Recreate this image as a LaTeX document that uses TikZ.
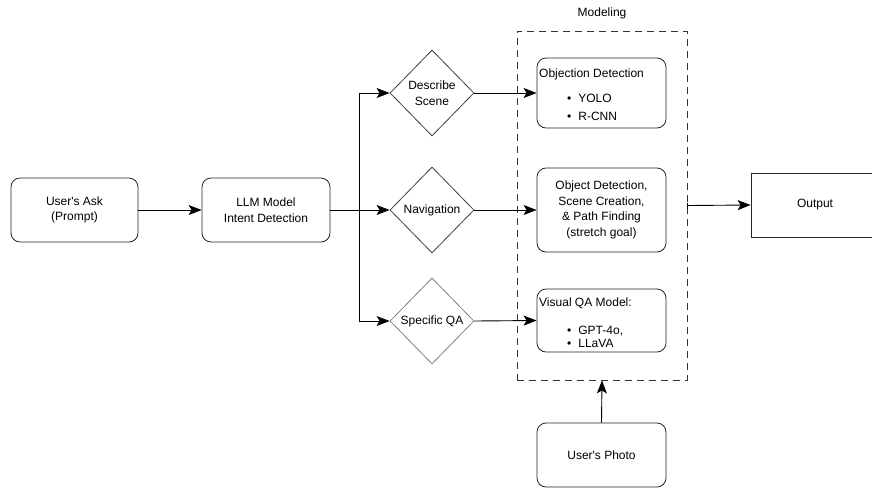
\documentclass[tikz,border=0pt]{standalone}
\usepackage{fontspec}
\setmainfont{Liberation Sans}
\usetikzlibrary{shapes.geometric,arrows.meta}
\begin{document}
\begin{tikzpicture}[x=1pt,y=-1pt,
  font=\fontsize{12}{15.5}\selectfont,
  box/.style={draw=black!85, line width=0.8pt, rounded corners=9pt, inner sep=0pt, align=center},
  dia/.style={draw=black!75, line width=0.8pt, diamond, inner sep=0pt, minimum width=84pt, minimum height=86pt, align=center},
  arr/.style={draw=black, line width=0.9pt, -{Stealth[length=13pt,width=10pt,inset=3pt]}},
  lbl/.style={inner sep=0pt, anchor=base west}]
\useasboundingbox (0,0) rectangle (872,488);
\clip (0,0) rectangle (872,488);
% left boxes
\node[box, minimum width=127pt, minimum height=64pt] (ask) at (74.5,210) {User\textquotesingle s Ask\\(Prompt)};
\node[box, minimum width=128pt, minimum height=64pt] (llm) at (266,210) {LLM Model\\Intent Detection};
% diamonds
\node[dia] (ds) at (432,93) {Describe\\Scene};
\node[dia] (nav) at (432,210) {Navigation};
\node[dia, draw=black!50] (qa) at (432,321) {Specific QA};
% modeling dashed box
\node[draw=black!80, line width=0.8pt, dash pattern=on 7pt off 5pt, minimum width=170pt, minimum height=349pt, inner sep=0pt] (model) at (602,205.5) {};
\node[inner sep=0pt] (mlabel) at (602,13) {Modeling};
% model boxes
\node[box, minimum width=129pt, minimum height=70pt] (od) at (601.5,93) {};
\node[lbl] (odt) at (539,77) {Objection Detection};
\node[lbl] (odb1) at (567,102) {\textbullet\hspace{7pt}YOLO};
\node[lbl] (odb2) at (567,120) {\textbullet\hspace{7pt}R-CNN};
\node[box, minimum width=129pt, minimum height=84pt] (pf) at (601.5,210) {Object Detection,\\Scene Creation,\\\& Path Finding\\(stretch goal)};
\node[box, minimum width=129pt, minimum height=63pt] (vqa) at (601.5,320.5) {};
\node[lbl] (vqat) at (539,306) {Visual QA Model:};
\node[lbl] (vqb1) at (567,334) {\textbullet\hspace{7pt}GPT-4o,};
\node[lbl] (vqb2) at (567,347) {\textbullet\hspace{7pt}LLaVA};
% output and photo
\node[draw=black!85, line width=0.8pt, minimum width=128pt, minimum height=64pt, inner sep=0pt] (out) at (815,205) {Output};
\node[box, minimum width=129pt, minimum height=64pt] (photo) at (601.5,455) {User\textquotesingle s Photo};
% connectors
\draw[arr] (ask) -- (llm);
\draw[arr] (llm) -- (nav);
\coordinate (br) at (359,210);
\draw[arr] (br) |- (ds.west);
\draw[arr] (br) |- (qa.west);
\draw[arr] (ds.east) -- (od.west);
\draw[arr] (nav.east) -- (pf.west);
\draw[arr] (qa.east) -- (vqa.west);
\draw[line width=0.8pt, black] ([yshift=-3pt]model.east) -- ([yshift=3pt]model.east);
\draw[arr] (model.east) -- (out.west);
\draw[arr] (photo.north) -- (model.south);
\end{tikzpicture}
\end{document}
